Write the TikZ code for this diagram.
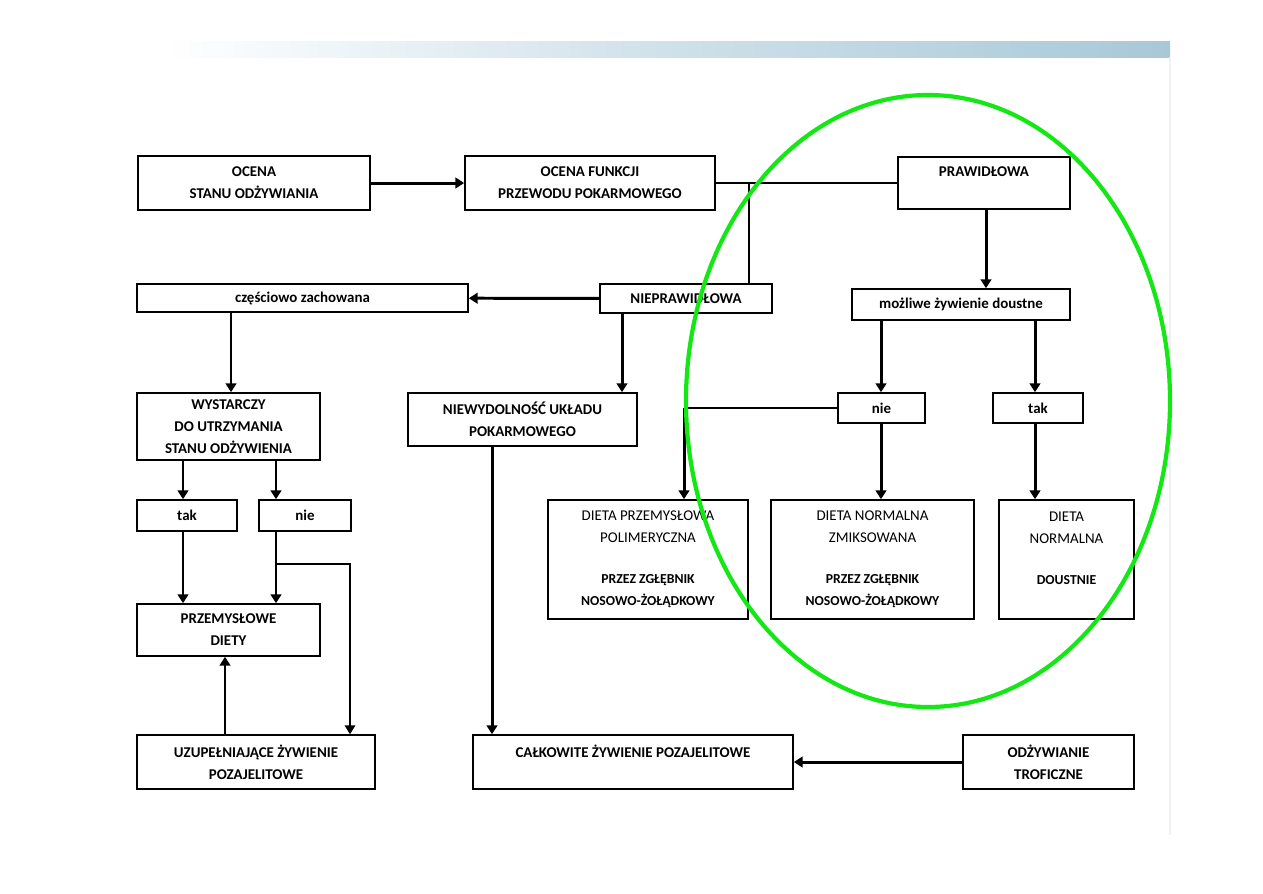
\documentclass[tikz,border=0pt]{standalone}
\usepackage{fontspec}
\setmainfont{Carlito}
\usepackage{tikz}
\usetikzlibrary{arrows.meta,positioning,calc}
\definecolor{ringgreen}{RGB}{20,232,20}
\definecolor{bannerblue}{RGB}{168,200,216}
\newcommand{\subfont}{\fontsize{7.8}{12.5}\selectfont\bfseries}

\begin{document}
\begin{tikzpicture}[font=\fontsize{8.5}{12.5}\selectfont\bfseries,
  >={Triangle[length=5pt,width=6pt]},
  box/.style={rectangle, draw, line width=0.9pt, align=center, inner sep=1pt},
  arr/.style={->, line width=1.7pt},
  link/.style={line width=0.8pt}]
  \useasboundingbox (0,0) rectangle (25.26,-17.86);
  % banner of the slide
  \shade[left color=white, right color=bannerblue, middle color=bannerblue!55] (3.3,-0.82) rectangle (23.4,-1.14);
  \draw[gray!12, line width=0.6pt] (23.4,-1.14) -- (23.4,-16.7);

  % boxes
  \node[box, minimum width=4.64cm, minimum height=1.08cm] (ocena) at (5.08,-3.66) {OCENA\\STANU ODŻYWIANIA};
  \node[box, minimum width=5.0cm, minimum height=1.08cm] (funkcji) at (11.8,-3.66) {OCENA FUNKCJI\\PRZEWODU POKARMOWEGO};
  \node[box, minimum width=3.44cm, minimum height=1.04cm] (praw) at (19.68,-3.66) {PRAWIDŁOWA\\\mbox{}};
  \node[box, minimum width=6.62cm, minimum height=0.56cm] (czesc) at (6.05,-5.96) {częściowo zachowana};
  \node[box, minimum width=3.44cm, minimum height=0.58cm] (niepr) at (13.72,-5.97) {NIEPRAWIDŁOWA};
  \node[box, minimum width=4.36cm, minimum height=0.62cm] (mozliwe) at (19.22,-6.09) {możliwe żywienie doustne};
  \node[box, minimum width=3.66cm, minimum height=1.34cm] (wyst) at (4.57,-8.53) {WYSTARCZY\\DO UTRZYMANIA\\STANU ODŻYWIENIA};
  \node[box, minimum width=4.58cm, minimum height=1.06cm] (niewyd) at (10.45,-8.39) {NIEWYDOLNOŚĆ UKŁADU\\POKARMOWEGO};
  \node[box, minimum width=1.74cm, minimum height=0.6cm] (nieR) at (17.63,-8.16) {nie};
  \node[box, minimum width=1.8cm, minimum height=0.6cm] (takR) at (20.76,-8.16) {tak};
  \node[box, minimum width=2.0cm, minimum height=0.62cm] (takL) at (3.74,-10.31) {tak};
  \node[box, minimum width=1.84cm, minimum height=0.62cm] (nieL) at (6.1,-10.31) {nie};
  \node[box, minimum width=4.0cm, minimum height=2.38cm] (dprzem) at (12.96,-11.19)
    {\mdseries DIETA PRZEMYSŁOWA\\\mdseries POLIMERYCZNA\\[11pt]{\subfont PRZEZ ZGŁĘBNIK}\\{\subfont NOSOWO-ŻOŁĄDKOWY}};
  \node[box, minimum width=4.06cm, minimum height=2.38cm] (dzmiks) at (17.45,-11.19)
    {\mdseries DIETA NORMALNA\\\mdseries ZMIKSOWANA\\[11pt]{\subfont PRZEZ ZGŁĘBNIK}\\{\subfont NOSOWO-ŻOŁĄDKOWY}};
  \node[box, minimum width=2.7cm, minimum height=2.38cm] (dnorm) at (21.33,-11.19)
    {\mdseries DIETA\\\mdseries NORMALNA\\[11pt]{\subfont DOUSTNIE}\\\mbox{}};
  \node[box, minimum width=3.66cm, minimum height=1.04cm] (przem) at (4.57,-12.6) {PRZEMYSŁOWE\\DIETY};
  \node[box, minimum width=4.76cm, minimum height=1.08cm] (uzup) at (5.12,-15.24) {UZUPEŁNIAJĄCE ŻYWIENIE\\POZAJELITOWE};
  \node[box, minimum width=6.4cm, minimum height=1.08cm] (calk) at (12.66,-15.24) {CAŁKOWITE ŻYWIENIE POZAJELITOWE\\\mbox{}};
  \node[box, minimum width=3.42cm, minimum height=1.08cm] (odz) at (20.97,-15.24) {ODŻYWIANIE\\TROFICZNE};

  % lanes of the vertical connectors
  \coordinate (xA) at (3.66,0);
  \coordinate (xB) at (4.5,0);
  \coordinate (xC) at (4.62,0);
  \coordinate (xD) at (5.52,0);
  \coordinate (xE) at (7.0,0);
  \coordinate (xF) at (9.84,0);
  \coordinate (xG) at (12.44,0);
  \coordinate (xH) at (13.68,0);
  \coordinate (xI) at (14.98,0);
  \coordinate (xJ) at (17.62,0);
  \coordinate (xK) at (19.72,0);
  \coordinate (xL) at (20.7,0);
  \coordinate (split) at (5.52,-11.28);

  % connectors
  \draw[arr] (ocena) -- (funkcji);
  \draw[link] (funkcji.east) -- (praw.west);
  \draw[link] (funkcji.east -| xI) -- (niepr.north -| xI);
  \draw[arr] (niepr) -- (czesc);
  \draw[arr] (praw.south -| xK) -- (mozliwe.north -| xK);
  \draw[arr] (czesc.south -| xC) -- (wyst.north -| xC);
  \draw[arr] (niepr.south -| xG) -- (niewyd.north -| xG);
  \draw[arr] (mozliwe.south -| xJ) -- (nieR.north -| xJ);
  \draw[arr] (mozliwe.south -| xL) -- (takR.north -| xL);
  \draw[link] (nieR.west) -- (nieR.west -| xH);
  \draw[arr] (nieR.west -| xH) -- (dprzem.north -| xH);
  \draw[arr] (nieR.south -| xJ) -- (dzmiks.north -| xJ);
  \draw[arr] (takR.south -| xL) -- (dnorm.north -| xL);
  \draw[arr] (wyst.south -| xA) -- (takL.north -| xA);
  \draw[arr] (wyst.south -| xD) -- (nieL.north -| xD);
  \draw[arr] (takL.south -| xA) -- (przem.north -| xA);
  \draw[arr] (nieL.south -| xD) -- (przem.north -| xD);
  \draw[link, ->] (split) -- (split -| xE) -- (uzup.north -| xE);
  \draw[arr] (uzup.north -| xB) -- (przem.south -| xB);
  \draw[arr] (niewyd.south -| xF) -- (calk.north -| xF);
  \draw[arr] (odz) -- (calk);

  % highlight
  \draw[ringgreen, line width=2.4pt] (18.56,-8.02) ellipse (4.84cm and 6.12cm);
\end{tikzpicture}
\end{document}
